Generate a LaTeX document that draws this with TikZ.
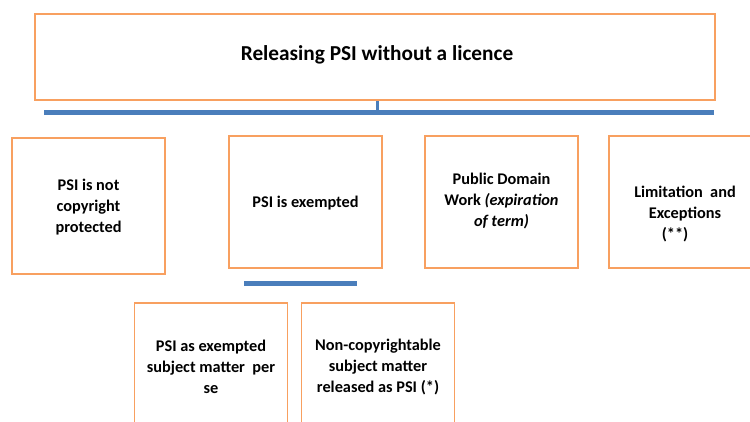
\documentclass[tikz,border=0pt]{standalone}
\usepackage{fontspec}
\setmainfont{Carlito}
\definecolor{boxorange}{HTML}{F8A060}
\definecolor{barblue}{HTML}{4A7EBB}
\begin{document}
\begin{tikzpicture}[x=1pt,y=-1pt,
  box/.style={draw=boxorange,line width=1.8pt,fill=white,inner sep=0pt,minimum width=153pt,minimum height=132pt},
  txt/.style={align=center,font=\fontsize{16.3}{21}\selectfont\bfseries,text=black},
  bar/.style={draw=barblue,line width=5pt},
  stem/.style={draw=barblue,line width=3pt}]
\useasboundingbox (0,0) rectangle (750,422);
% top box
\node[box,minimum width=680pt,minimum height=86pt] (top) at (375,57) {};
\node[font=\fontsize{21.3}{25}\selectfont\bfseries] (toptxt) at (377,55) {Releasing PSI without a licence};
\coordinate (barL) at (44,113);
\coordinate (barR) at (714,113);
\coordinate (barM) at (377,113);
\draw[stem] (top.south -| barM) -- (barM);
\draw[bar] (barL) -- (barR);
% row 2
\node[box,minimum height=136pt] (b1) at (88.5,206) {};
\node[txt] (t1) at (88.5,207) {PSI is not\\copyright\\protected};
\node[box] (b2) at (305.5,202) {};
\node[txt] (t2) at (305.5,203) {PSI is exempted};
\node[box] (b3) at (501.5,202) {};
\node[txt] (t3) at (501.5,201) {Public Domain\\Work \textit{(expiration}\\\textit{of term)}};
\node[box] (b4) at (685.5,202) {};
\node[txt] (t4) at (685,214) {Limitation~ and\\Exceptions\\(**)\hspace*{20pt}};
% second bar
\coordinate (bar2L) at (244,284);
\coordinate (bar2R) at (357,284);
\draw[bar] (bar2L) -- (bar2R);
% row 3
\node[box,minimum height=136pt] (b5) at (211,371) {};
\node[txt] (t5) at (211,367) {PSI as exempted\\subject matter~ per\\se};
\node[box,minimum height=136pt] (b6) at (378,371) {};
\node[txt] (t6) at (378,367) {Non-copyrightable\\subject matter\\released as PSI (*)};
\end{tikzpicture}
\end{document}
